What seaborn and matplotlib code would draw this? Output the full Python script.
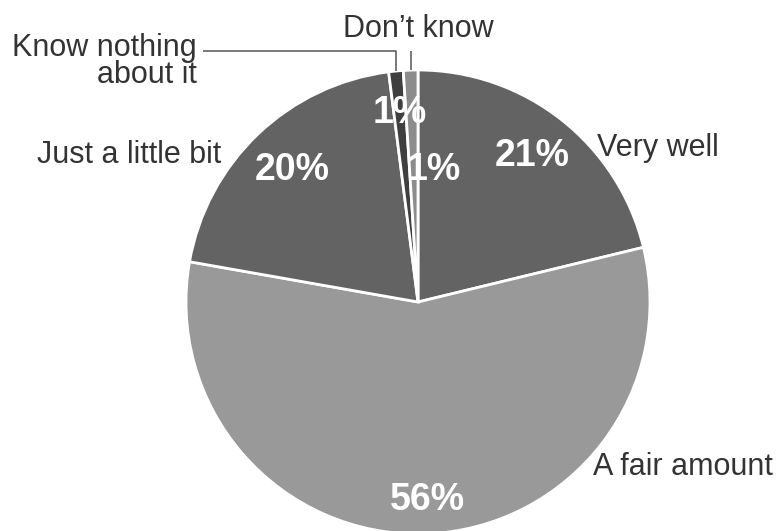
import numpy as np
import matplotlib
matplotlib.use("Agg")
import matplotlib.pyplot as plt
import seaborn as sns

# Survey answers, clockwise from 12 o'clock
categories = ["Very well", "A fair amount", "Just a little bit",
              "Know nothing\nabout it", "Don\u2019t know"]
values = [21, 56, 20, 1, 1]
pct_labels = ["21%", "56%", "20%", "1%", "1%"]
colors = ["#636363", "#999999", "#636363", "#3f3f3f", "#8c8c8c"]

sns.set_theme(style="white")
plt.rcParams["font.family"] = ["Liberation Sans", "DejaVu Sans"]

W, H = 777, 531
fig = plt.figure(figsize=(W / 100, H / 100), dpi=100)
ax = fig.add_axes([0, 0, 1, 1])

cx, cy, R = 418, H - 302, 232
wedges, _ = ax.pie(values, colors=colors, startangle=90, counterclock=False,
                   center=(cx, cy), radius=R,
                   wedgeprops=dict(edgecolor="white", linewidth=2))
ax.set_xlim(0, W)
ax.set_ylim(0, H)
ax.set_aspect("equal")
ax.axis("off")

# percentage labels: (radius fraction, angular shift in degrees)
pct_place = [(0.80, 0), (0.855, 1), (0.785, 0), (0.82, 0), (0.575, -8.7)]
for w, lab, (f, dth) in zip(wedges, pct_labels, pct_place):
    th = np.deg2rad((w.theta1 + w.theta2) / 2 + dth)
    ax.text(cx + f * R * np.cos(th), cy + f * R * np.sin(th), lab,
            ha="center", va="center", color="white", fontsize=27,
            fontweight="bold")

txt = dict(color="#333333", fontsize=22)
ax.text(597, H - 156, categories[0], ha="left", va="baseline", **txt)
ax.text(593, H - 475, categories[1], ha="left", va="baseline", **txt)
ax.text(221, H - 163, categories[2], ha="right", va="baseline", **txt)
ax.text(197, H - 83, categories[3], ha="right", va="baseline",
        multialignment="right", linespacing=0.85, **txt)
ax.text(cx, H - 37, categories[4], ha="center", va="baseline", **txt)

# leader lines for the two thin slices
lead_y = H - 51
for w, left in ((wedges[3], 203), (wedges[4], None)):
    th = np.deg2rad((w.theta1 + w.theta2) / 2)
    ex, ey = cx + R * np.cos(th), cy + R * np.sin(th)
    xs = [ex, ex] if left is None else [left, ex, ex]
    ys = [lead_y, ey] if left is None else [lead_y, lead_y, ey]
    ax.plot(xs, ys, color="#555555", linewidth=1.1, solid_capstyle="butt")

fig.savefig("out.png", dpi=100, facecolor="white")
